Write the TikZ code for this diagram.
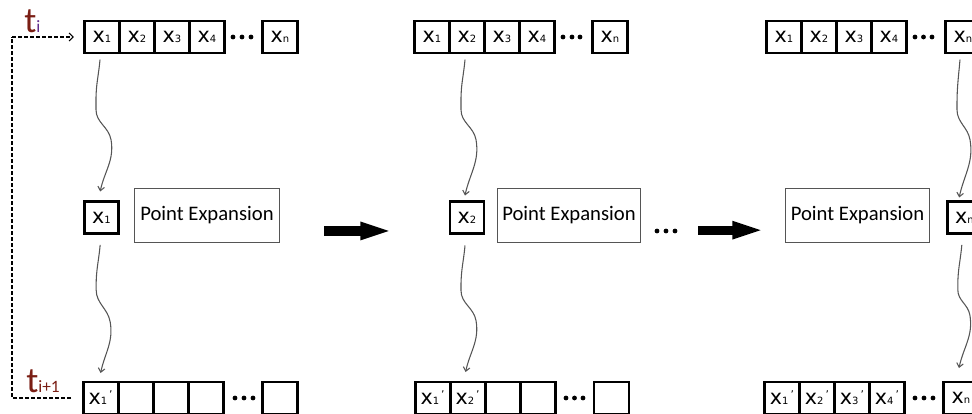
\documentclass[tikz,border=0pt]{standalone}
\usepackage{fontspec}
\setmainfont{DejaVu Sans}
\newfontfamily\pefont{Carlito}
\usetikzlibrary{arrows.meta,calc}
\definecolor{tred}{HTML}{7A1E14}
\definecolor{tpur}{HTML}{5E2A8C}
\definecolor{curvegray}{HTML}{555555}
\newcommand\xs[1]{x{\fontsize{7.5}{7.5}\selectfont #1}}
\newcommand\xp[1]{x{\fontsize{7.5}{7.5}\selectfont #1}\kern1.5pt\raisebox{4.5pt}{\fontsize{8}{8}\selectfont\char"0027}}
\begin{document}
\begin{tikzpicture}[x=0.75pt,y=-0.75pt,
  cell/.style={draw, line width=2.2pt, minimum width=26.25pt, minimum height=24pt,
    inner sep=0pt, outer sep=0pt, font=\fontsize{15.5}{15.5}\selectfont},
  midcell/.style={cell, minimum width=25.5pt},
  pebox/.style={draw=curvegray, line width=0.8pt, minimum height=40.5pt, inner sep=0pt,
    font=\pefont\fontsize{15.5}{15.5}\selectfont},
  wavy/.style={draw=curvegray, line width=0.8pt, -{Straight Barb[length=3pt,width=5pt]}},
  dashline/.style={draw, line width=0.8pt, dash pattern=on 3pt off 1.5pt},
  bigarrow/.style={draw, line width=7pt, -{Triangle[length=29pt,width=11pt]}},
  dot/.style={circle, fill, inner sep=0pt, minimum size=3.6pt},
  tlab/.style={inner sep=0pt, anchor=base west, font=\pefont}]
\useasboundingbox (0,0) rectangle (972,414);
\clip (0,0) rectangle (972,414);

% ---------- top rows ----------
\node[cell] (T11) at (102,37) {\xs1};
\node[cell,anchor=west] (T12) at (T11.east) {\xs2};
\node[cell,anchor=west] (T13) at (T12.east) {\xs3};
\node[cell,anchor=west] (T14) at (T13.east) {\xs4};
\node[cell] (T15) at (280,37) {\xs n};

\node[cell] (T21) at (432,37) {\xs1};
\node[cell,anchor=west] (T22) at (T21.east) {\xs2};
\node[cell,anchor=west] (T23) at (T22.east) {\xs3};
\node[cell,anchor=west] (T24) at (T23.east) {\xs4};
\node[cell] (T25) at (610,37) {\xs n};

\node[cell] (T31) at (784,37) {\xs1};
\node[cell,anchor=west] (T32) at (T31.east) {\xs2};
\node[cell,anchor=west] (T33) at (T32.east) {\xs3};
\node[cell,anchor=west] (T34) at (T33.east) {\xs4};
\node[cell] (T35) at (963,37) {\xs n};

% ---------- bottom rows ----------
\node[cell] (B11) at (100.6,398) {\xp1};
\node[cell,anchor=west] (B12) at (B11.east) {};
\node[cell,anchor=west] (B13) at (B12.east) {};
\node[cell,anchor=west] (B14) at (B13.east) {};
\node[cell] (B15) at (280,398) {};

\node[cell] (B21) at (432.6,398) {\xp1};
\node[cell,anchor=west] (B22) at (B21.east) {\xp2};
\node[cell,anchor=west] (B23) at (B22.east) {};
\node[cell,anchor=west] (B24) at (B23.east) {};
\node[cell] (B25) at (611.5,398) {};

\node[cell] (B31) at (781.9,398) {\xp1};
\node[cell,anchor=west] (B32) at (B31.east) {\xp2};
\node[cell,anchor=west] (B33) at (B32.east) {\xp3};
\node[cell,anchor=west] (B34) at (B33.east) {\xp4};
\node[cell] (B35) at (961,398) {\xs n};

% ---------- middle ----------
\node[midcell] (M1) at (101.5,217.5) {\xs1};
\node[pebox, minimum width=108.75pt] (PE1) at (207,215.5) {Point Expansion};
\node[midcell] (M2) at (467,217.5) {\xs2};
\node[pebox, minimum width=107.25pt] (PE2) at (569,215.5) {Point Expansion};
\node[pebox, minimum width=108pt] (PE3) at (857.5,215.5) {Point Expansion};
\node[midcell] (M3) at (964.5,217.5) {\xs n};

% ---------- dots ----------
\foreach \x in {233,242,251} \node[dot] at (\x,37) {};
\foreach \x in {235,244,253} \node[dot] at (\x,398) {};
\foreach \x in {563,572,580} \node[dot] at (\x,37) {};
\foreach \x in {566,574.5,583} \node[dot] at (\x,398) {};
\foreach \x in {915,923.5,932} \node[dot] at (\x,37) {};
\foreach \x in {915,924,933} \node[dot] at (\x,398) {};
\foreach \x in {657,666,675} \node[dot] at (\x,231) {};

% ---------- time labels and dashed loop ----------
\node[tlab] (ti) at (24,32) {{\color{tred}\fontsize{27}{27}\selectfont t}{\color{tpur}\fontsize{13}{13}\selectfont i}};
\node[tlab] (ti1) at (26,392) {{\color{tred}\fontsize{27}{27}\selectfont t}{\color{tred}\fontsize{13}{13}\selectfont i+1}};
\coordinate (dl) at (12,200);
\draw[dashline] ([xshift=-9pt]B11.west) -- (B11.west -| dl) -- (T11.west -| dl);
\draw[dashline, -{Straight Barb[length=3pt,width=6pt]}] (T11.west -| dl) -- ([xshift=-8pt]T11.west);

% ---------- wavy connectors ----------
\draw[wavy] ([shift={(-1.5pt,-5pt)}]T11.south) to[out=-95,in=90] ++(-4,40) -- ++(0,10)
  to[out=-90,in=100] ++(15,30) to[out=-80,in=78] ([shift={(-1pt,7.5pt)}]M1.north);
\draw[wavy] ([shift={(-1pt,-8.5pt)}]M1.south) to[out=-95,in=90] ++(-4,40) -- ++(0,5)
  to[out=-90,in=100] ++(14,32) to[out=-80,in=78] ([shift={(0pt,6.75pt)}]B11.north);

\draw[wavy] ([shift={(-1.5pt,-5pt)}]T22.south) to[out=-95,in=90] ++(-4,40) -- ++(0,10)
  to[out=-90,in=100] ++(15,30) to[out=-80,in=78] ([shift={(-1.5pt,4.5pt)}]M2.north);
\draw[wavy] ([shift={(-1.5pt,-9pt)}]M2.south) to[out=-95,in=90] ++(-4,40) -- ++(0,5)
  to[out=-90,in=100] ++(15,30) to[out=-80,in=78] ([shift={(-1.5pt,7.5pt)}]B22.north);

\draw[wavy] ([shift={(-2.25pt,-5pt)}]T35.south) to[out=-95,in=90] ++(-3,45) -- ++(0,5)
  to[out=-90,in=100] ++(13,30) to[out=-80,in=78] ([shift={(-4pt,3pt)}]M3.north);
\draw[wavy] ([shift={(-2pt,-8.5pt)}]M3.south) to[out=-95,in=90] ++(-4,40) -- ++(0,5)
  to[out=-90,in=100] ++(12,25) to[out=-80,in=78] ([shift={(-1.5pt,10.5pt)}]B35.north);

% ---------- big arrows ----------
\draw[bigarrow] ([shift={(33pt,-11.6pt)}]PE1.east) -- ([shift={(-38.25pt,-10.1pt)}]M2.west);
\draw[bigarrow] ([shift={(42.75pt,-11pt)}]PE2.east) -- ([shift={(-10.5pt,-11pt)}]PE3.west);
\end{tikzpicture}
\end{document}
